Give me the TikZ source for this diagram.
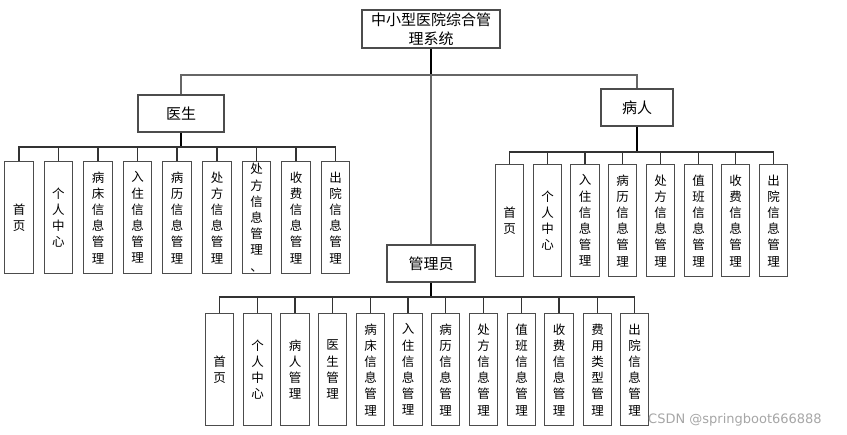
\documentclass[tikz,border=0pt]{standalone}
\usepackage{fontspec}
\newfontfamily\cjk{Noto Sans CJK SC}
\newfontfamily\wmfont{DejaVu Sans}
\begin{document}
\begin{tikzpicture}[x=1pt,y=-1pt,
  box/.style={draw=black!70,line width=1.2pt,fill=white,inner sep=0pt,align=center},
  topbox/.style={box,font=\cjk\fontsize{15}{19}\selectfont},
  leaf/.style={box,anchor=north,minimum width=28.5,minimum height=112,
    font=\cjk\fontsize{12.5}{16.2}\selectfont},
  link/.style={draw=black!60,line width=1.1pt},
  stub/.style={draw=black,line width=1.5pt}]
\useasboundingbox (0,0) rectangle (847,435);

% top levels
\node[topbox,minimum width=138,minimum height=38] (root) at (431,29) {中小型医院综合管\\理系统};
\node[topbox,minimum width=86,minimum height=37] (doc) at (181,113.5) {医生};
\node[topbox,minimum width=72,minimum height=37] (pat) at (637,107.5) {病人};
\node[topbox,minimum width=88,minimum height=37] (adm) at (431,263.5) {管理员};

\coordinate (tbus) at (431,75);
\draw[stub] (root.south) -- (tbus);
\draw[link] (tbus) -- (adm.north);
\draw[link] (tbus) -| (doc.north);
\draw[link] (tbus) -| (pat.north);

% doctor functions
\coordinate (dbus) at (181,147);
\draw[stub] (doc.south) -- (dbus);
\foreach \i/\x/\t in {1/19/首\\页, 2/58.5/个\\人\\中\\心, 3/98/病\\床\\信\\息\\管\\理,
  4/137.5/入\\住\\信\\息\\管\\理, 5/177/病\\历\\信\\息\\管\\理, 6/217/处\\方\\信\\息\\管\\理,
  7/256.5/处\\方\\信\\息\\管\\理\\、, 8/296/收\\费\\信\\息\\管\\理, 9/335.5/出\\院\\信\\息\\管\\理}{
  \node[leaf] (d\i) at (\x,161) {\t};
  \draw[link,draw=black!80] (dbus) -| (d\i.north);
}

% patient functions
\coordinate (pbus) at (637,152);
\draw[stub] (pat.south) -- (pbus);
\foreach \i/\x/\t in {1/509.5/首\\页, 2/547.5/个\\人\\中\\心, 3/585/入\\住\\信\\息\\管\\理,
  4/622.5/病\\历\\信\\息\\管\\理, 5/660.5/处\\方\\信\\息\\管\\理, 6/698.5/值\\班\\信\\息\\管\\理,
  7/735.5/收\\费\\信\\息\\管\\理, 8/773.5/出\\院\\信\\息\\管\\理}{
  \node[leaf] (p\i) at (\x,164) {\t};
  \draw[link,draw=black!80] (pbus) -| (p\i.north);
}

% administrator functions
\coordinate (abus) at (431,297);
\draw[stub] (adm.south) -- (abus);
\foreach \i/\x/\t in {1/219.5/首\\页, 2/257.5/个\\人\\中\\心, 3/295/病\\人\\管\\理,
  4/332.5/医\\生\\管\\理, 5/370.5/病\\床\\信\\息\\管\\理, 6/408/入\\住\\信\\息\\管\\理,
  7/445.5/病\\历\\信\\息\\管\\理, 8/483.5/处\\方\\信\\息\\管\\理, 9/521.5/值\\班\\信\\息\\管\\理,
  10/559/收\\费\\信\\息\\管\\理, 11/597.5/费\\用\\类\\型\\管\\理, 12/634.5/出\\院\\信\\息\\管\\理}{
  \node[leaf] (a\i) at (\x,313) {\t};
  \draw[link,draw=black!80] (abus) -| (a\i.north);
}

% site mark
\node[font=\wmfont\fontsize{13}{15}\selectfont,text=black!35,anchor=west,inner sep=0pt] (mark) at (648,420) {CSDN @springboot666888};
\end{tikzpicture}
\end{document}
